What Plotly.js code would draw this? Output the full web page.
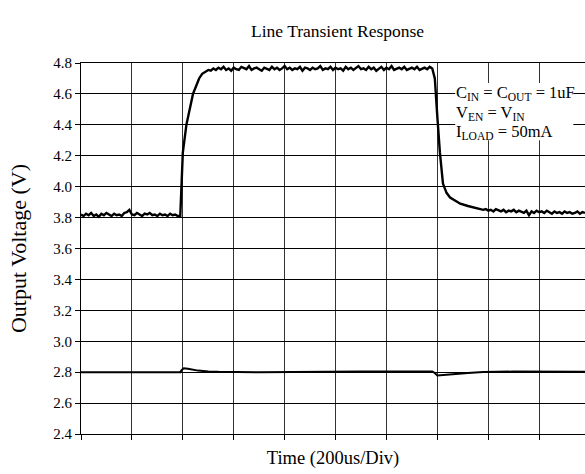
<!DOCTYPE html>
<html>
<head>
<meta charset="utf-8">
<script src="https://cdn.plot.ly/plotly-3.0.1.min.js"></script>
<style>html,body{margin:0;padding:0;overflow:hidden;background:#fff;}</style>
</head>
<body>
<div id="chart" style="width:585px;height:474px;"></div>
<script>
// Output voltage trace (V), time in divisions (200us/Div)
// flat section before the line step, sampled every 0.05 div from 0 to 1.9
const outLowStart = 0, outLowStep = 0.05;
const outLowV = [3.82,3.81,3.825,3.815,3.83,3.81,3.82,3.805,3.825,3.815,3.83,3.82,3.81,3.825,3.815,3.82,3.81,3.83,3.835,3.85,
  3.82,3.815,3.83,3.82,3.81,3.825,3.82,3.83,3.815,3.82,3.81,3.825,3.815,3.82,3.81,3.825,3.815,3.82,3.81];
// rising edge
const riseT = [1.95,1.97,2.0,2.07,2.14,2.2,2.26,2.32,2.38,2.45,2.5];
const riseV = [3.81,3.95,4.22,4.40,4.52,4.60,4.65,4.70,4.73,4.745,4.755];
// high plateau, every 0.05 div from 2.55 to 6.9
const outHighStart = 2.55, outHighStep = 0.05;
const outHighV = [4.75,4.765,4.755,4.77,4.76,4.775,4.755,4.765,4.75,4.77,
  4.76,4.755,4.775,4.765,4.76,4.78,4.755,4.765,4.77,4.76,
  4.75,4.77,4.765,4.755,4.775,4.76,4.77,4.755,4.765,4.78,
  4.76,4.77,4.755,4.765,4.76,4.775,4.75,4.77,4.765,4.755,
  4.77,4.76,4.765,4.78,4.755,4.765,4.76,4.775,4.755,4.77,
  4.76,4.765,4.75,4.775,4.76,4.77,4.755,4.765,4.78,4.76,
  4.765,4.755,4.775,4.76,4.77,4.75,4.765,4.775,4.755,4.77,
  4.76,4.78,4.755,4.765,4.77,4.76,4.775,4.755,4.765,4.77,
  4.76,4.775,4.755,4.765,4.77,4.76,4.775,4.765];
// falling edge
const fallT = [6.95,7.0,7.05,7.11,7.18,7.25,7.35,7.45,7.6,7.75];
const fallV = [4.70,4.45,4.22,4.02,3.96,3.93,3.91,3.89,3.875,3.86];
// settled section after the step, every 0.05 div from 7.9 to 9.9
const outEndStart = 7.9, outEndStep = 0.05;
const outEndV = [3.85,3.855,3.845,3.85,3.84,3.855,3.845,3.84,3.85,3.835,
  3.845,3.84,3.85,3.835,3.845,3.84,3.83,3.845,3.815,3.84,
  3.83,3.845,3.835,3.84,3.83,3.845,3.835,3.825,3.84,3.83,
  3.835,3.825,3.84,3.83,3.835,3.825,3.83,3.84,3.825,3.835,
  3.83];
// Lower trace
const inT = [0,0.5,1.0,1.5,1.95,1.98,2.02,2.1,2.2,2.3,2.5,2.7,3.5,4.5,5.5,6.9,6.95,7.0,7.1,7.3,7.6,7.9,8.5,9.2,9.9];
const inV = [2.80,2.801,2.80,2.801,2.80,2.815,2.825,2.822,2.815,2.81,2.805,2.802,2.80,2.803,2.804,2.804,2.795,2.778,2.78,2.787,2.795,2.801,2.804,2.803,2.803];
const yTicks = [2.4,2.6,2.8,3.0,3.2,3.4,3.6,3.8,4.0,4.2,4.4,4.6,4.8];
const noteLines = ['C<sub>IN</sub> = C<sub>OUT</sub> = 1uF', 'V<sub>EN</sub> = V<sub>IN</sub>', 'I<sub>LOAD</sub> = 50mA'];

function sampled(start, step, vals) { return vals.map((_, i) => +(start + i * step).toFixed(3)); }
const outT = [].concat(sampled(outLowStart, outLowStep, outLowV), riseT, sampled(outHighStart, outHighStep, outHighV), fallT, sampled(outEndStart, outEndStep, outEndV));
const outV = [].concat(outLowV, riseV, outHighV, fallV, outEndV);

const serif = 'Liberation Serif, Times New Roman, serif';
const traces = [
  {x: outT, y: outV, type: 'scatter', mode: 'lines', line: {color: '#000', width: 2.4}, hoverinfo: 'skip'},
  {x: inT, y: inV, type: 'scatter', mode: 'lines', line: {color: '#000', width: 2}, hoverinfo: 'skip'}
];
const noteY = [4.605, 4.478, 4.355];
const layout = {
  width: 585, height: 474,
  margin: {l: 81, r: 0, t: 63, b: 40},
  paper_bgcolor: '#fff', plot_bgcolor: '#fff',
  showlegend: false,
  font: {family: serif, color: '#000', size: 15},
  title: {text: 'Line Transient Response', font: {family: serif, size: 17.5, color: '#000'},
          x: 0.577, xref: 'container', xanchor: 'center', y: 1 - 31/474, yref: 'container', yanchor: 'middle'},
  xaxis: {
    range: [0, 9.9], dtick: 1, tick0: 0, showticklabels: false,
    showgrid: true, gridcolor: '#333', gridwidth: 1,
    ticks: 'outside', ticklen: 5, tickcolor: '#000',
    showline: true, linecolor: '#000', linewidth: 1, mirror: true,
    zeroline: false,
    title: {text: 'Time (200us/Div)', font: {family: serif, size: 18.5, color: '#000'}, standoff: 12}
  },
  yaxis: {
    range: [2.4, 4.8], tickvals: yTicks, ticktext: yTicks.map(v => v.toFixed(1)),
    showgrid: true, gridcolor: '#000', gridwidth: 1,
    ticks: 'outside', ticklen: 5, tickcolor: '#000',
    showline: true, linecolor: '#000', linewidth: 1,
    zeroline: false, tickfont: {family: serif, size: 15, color: '#000'},
    title: {text: 'Output Voltage (V)', font: {family: serif, size: 22, color: '#000'}, standoff: 20}
  },
  shapes: [{type: 'rect', xref: 'x', yref: 'y', x0: 7.35, x1: 9.67, y0: 4.30, y1: 4.671,
            fillcolor: '#fff', line: {width: 0}, layer: 'above'}],
  annotations: noteLines.map((t, i) => ({
    xref: 'x', yref: 'y', x: 7.33, y: noteY[i], xanchor: 'left', yanchor: 'middle', align: 'left',
    showarrow: false, text: t, font: {family: serif, size: 16.5, color: '#000'}
  }))
};
Plotly.newPlot('chart', traces, layout, {staticPlot: true, displayModeBar: false});
</script>
</body>
</html>
